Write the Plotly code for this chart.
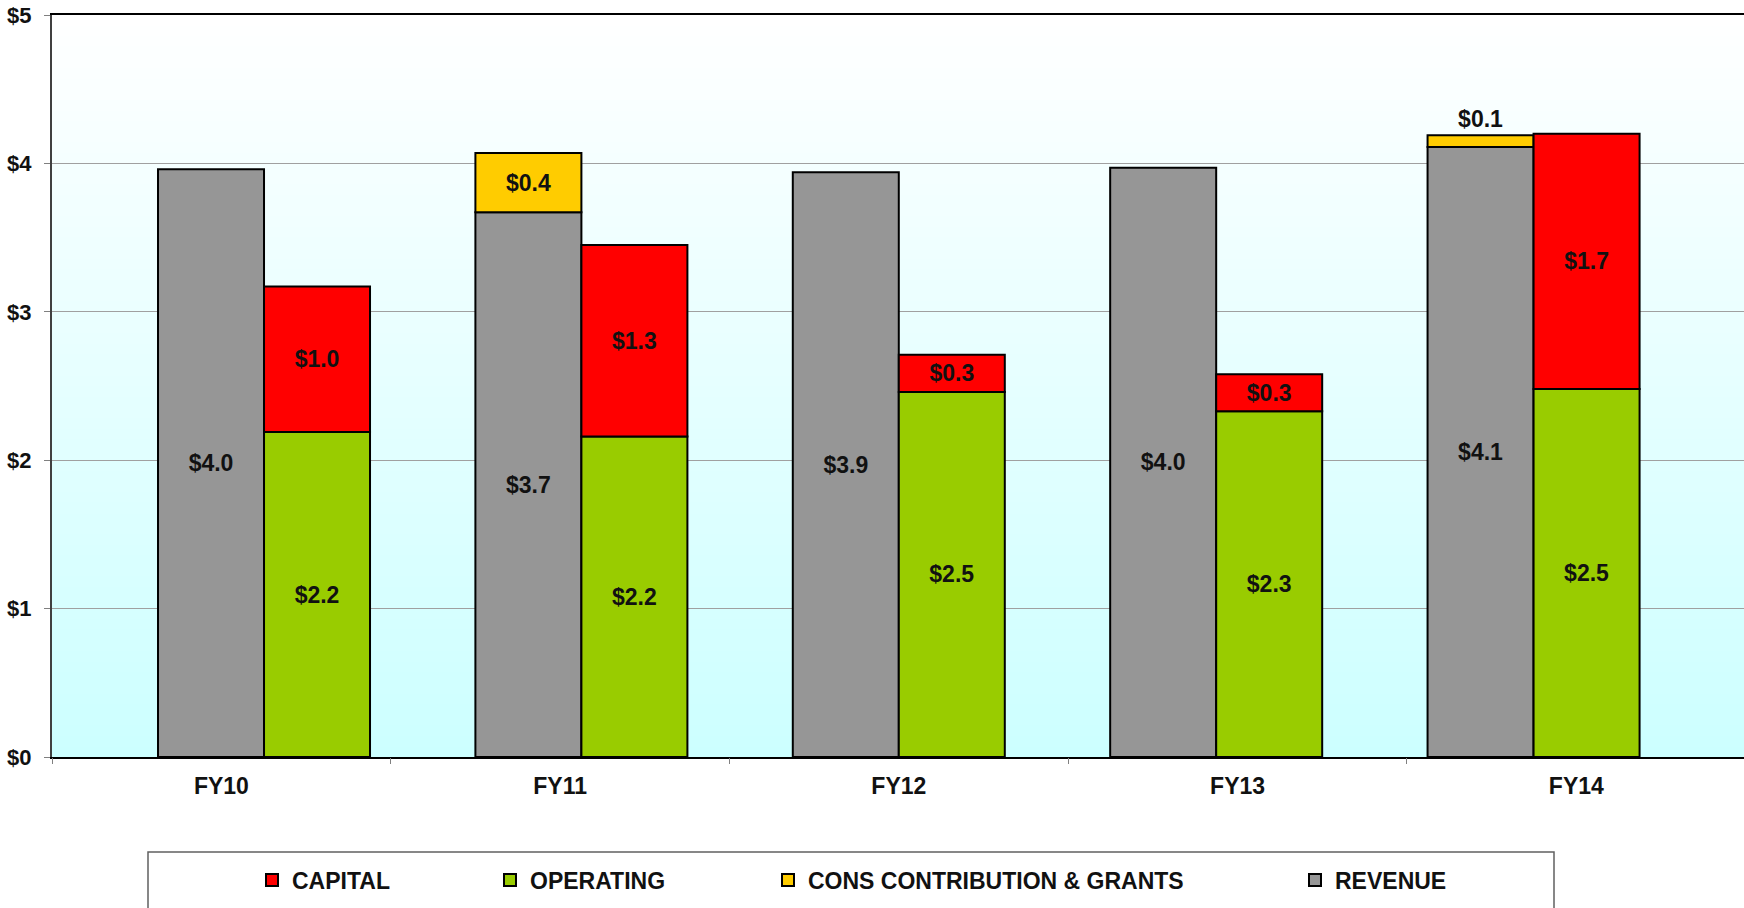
import plotly.graph_objects as go

# ---- data ----
years = ["FY10", "FY11", "FY12", "FY13", "FY14"]
revenue = [3.96, 3.67, 3.94, 3.97, 4.11]
cons_contrib = [None, 0.40, None, None, 0.08]
operating = [2.19, 2.16, 2.46, 2.33, 2.48]
capital = [0.98, 1.29, 0.25, 0.25, 1.72]
y_ticks = [0, 1, 2, 3, 4, 5]
y_tick_labels = [f"${v}" for v in y_ticks]

FONT = "Liberation Sans, Arial, sans-serif"
TXT = "#111111"


def lab(vals):
    return ["" if v is None else "$" + format(v + 1e-9, ".1f") for v in vals]


W, H = 1744, 908
ML, MR, MT, MB = 52, 0, 15, 151
PW, PH = W - ML - MR, H - MT - MB


def px_x(p):
    return (p - ML) / PW


def px_y(p):
    return (H - MB - p) / PH


BW = 0.334
bar_font = dict(family=FONT, size=23, color=TXT, weight="bold")
line = dict(color="black", width=2)

fig = go.Figure()
fig.add_trace(go.Bar(
    x=years, y=revenue, name="REVENUE", legend="legend4",
    marker=dict(color="#969696", line=line), width=BW, offset=-BW,
    text=lab(revenue), textposition="inside", insidetextanchor="middle",
    textangle=0, insidetextfont=bar_font, outsidetextfont=bar_font,
))
fig.add_trace(go.Bar(
    x=years, y=cons_contrib, base=revenue, name="CONS CONTRIBUTION & GRANTS", legend="legend3",
    marker=dict(color="#FFCC00", line=line), width=BW, offset=-BW,
    text=lab(cons_contrib), textposition="auto", insidetextanchor="middle",
    textangle=0, insidetextfont=bar_font, outsidetextfont=bar_font, cliponaxis=False,
))
fig.add_trace(go.Bar(
    x=years, y=operating, name="OPERATING", legend="legend2",
    marker=dict(color="#99CC00", line=line), width=BW, offset=0,
    text=lab(operating), textposition="inside", insidetextanchor="middle",
    textangle=0, insidetextfont=bar_font, outsidetextfont=bar_font,
))
fig.add_trace(go.Bar(
    x=years, y=capital, base=operating, name="CAPITAL", legend="legend",
    marker=dict(color="#FF0000", line=line), width=BW, offset=0,
    text=lab(capital), textposition="inside", insidetextanchor="middle",
    textangle=0, insidetextfont=bar_font, outsidetextfont=bar_font,
))
# carrier for the category label axis
fig.add_trace(go.Scatter(
    x=years, y=[0] * len(years), xaxis="x2", mode="markers",
    marker=dict(opacity=0), showlegend=False, hoverinfo="skip",
))

# gradient plot background
shapes = []
N = 70
for i in range(N):
    t0, t1 = i / N, (i + 1) / N
    tm = (t0 + t1) / 2
    r = int(round(204 + 51 * tm))
    shapes.append(dict(
        type="rect", xref="paper", yref="paper", x0=0, x1=1, y0=t0, y1=t1 + 0.002,
        fillcolor=f"rgb({r},255,255)", line=dict(width=0), layer="below",
    ))
# legend frame
shapes.append(dict(
    type="rect", xref="paper", yref="paper",
    x0=px_x(148), x1=px_x(1554), y0=px_y(852), y1=px_y(915),
    fillcolor="white", line=dict(color="#606060", width=1.5), layer="below",
))

leg_font = dict(family=FONT, size=23, color=TXT, weight="bold")
leg_y = px_y(880)


def leg(text_start):
    return dict(
        x=px_x(text_start - 34), xanchor="left", y=leg_y, yanchor="middle",
        orientation="h", font=leg_font, bgcolor="rgba(0,0,0,0)", borderwidth=0,
        itemwidth=30,
    )


fig.update_layout(
    width=W, height=H,
    margin=dict(l=ML, r=MR, t=MT, b=MB, autoexpand=False),
    paper_bgcolor="white", plot_bgcolor="white",
    barmode="overlay",
    hovermode=False,
    font=dict(family=FONT, color=TXT),
    shapes=shapes,
    legend=leg(286),
    legend2=leg(524),
    legend3=leg(802),
    legend4=leg(1329),
    xaxis=dict(
        type="category", categoryorder="array", categoryarray=years,
        range=[-0.668, 4.663], showticklabels=False, ticks="",
        showgrid=False, zeroline=False, automargin=False,
        showline=True, linecolor="black", linewidth=2, mirror=True,
    ),
    xaxis2=dict(
        type="category", categoryorder="array", categoryarray=years,
        overlaying="x", anchor="y", side="bottom", automargin=False,
        range=[-0.5, 4.495], tickson="boundaries", ticks="outside",
        ticklen=6, tickcolor="#808080", tickwidth=1,
        tickfont=dict(family=FONT, size=23, color=TXT, weight="bold"),
        ticklabelstandoff=13,
        showgrid=False, zeroline=False, showline=False,
    ),
    yaxis=dict(
        range=[0, 5], tickmode="array", tickvals=y_ticks, ticktext=y_tick_labels,
        showgrid=True, gridcolor="#A0A0A0", gridwidth=1, zeroline=False,
        showline=True, linecolor="#404040", linewidth=2, automargin=False,
        ticks="outside", ticklen=6, tickcolor="#808080",
        tickfont=dict(family=FONT, size=22, color=TXT, weight="bold"),
        ticklabelstandoff=8,
    ),
)

fig.write_html(
    "out.html",
    config={"displayModeBar": False},
    post_script="document.body.style.margin='0';document.body.style.overflow='hidden';",
)
